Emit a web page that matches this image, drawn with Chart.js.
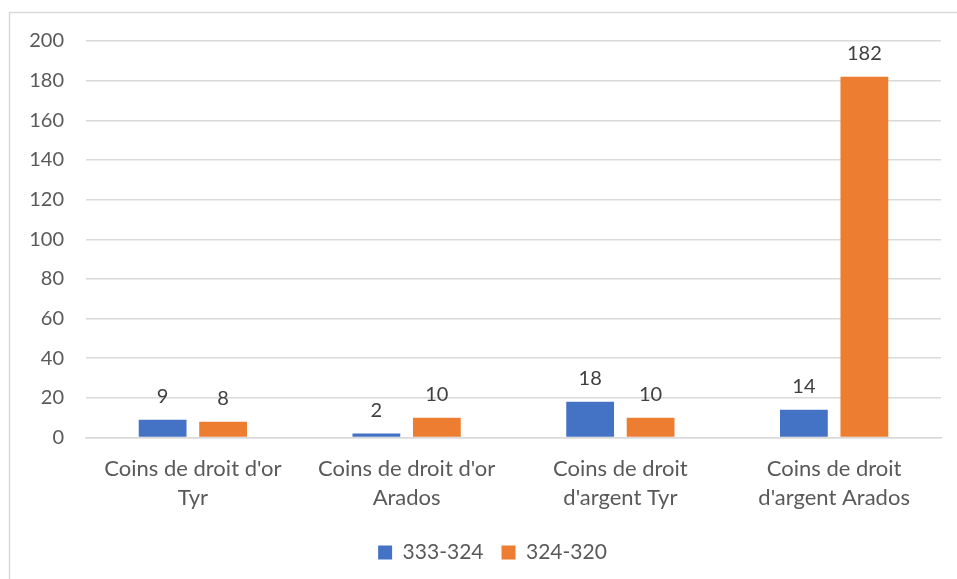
<!DOCTYPE html>
<html>
<head>
<meta charset="utf-8">
<script src="https://cdn.jsdelivr.net/npm/chart.js@4.4.1/dist/chart.umd.min.js"></script>
<style>
  html, body { margin: 0; padding: 0; background: #fff; }
  #wrap { position: relative; width: 957px; height: 579px; }
</style>
</head>
<body>
<div id="wrap"><canvas id="chart" width="957" height="579"></canvas></div>
<script>
const CATEGORIES = [
  ["Coins de droit d'or", 'Tyr'],
  ["Coins de droit d'or", 'Arados'],
  ['Coins de droit', "d'argent Tyr"],
  ['Coins de droit', "d'argent Arados"],
];
const SERIES_NAMES = ['333-324', '324-320'];
const VALUES_333_324 = [9, 2, 18, 14];
const VALUES_324_320 = [8, 10, 10, 182];
const Y_TICKS = [0, 20, 40, 60, 80, 100, 120, 140, 160, 180, 200];

const BLUE = '#4472C4';
const ORANGE = '#ED7D31';
const GRID = '#D9D9D9';
const TEXT = '#595959';
const FONT = 'Lato, "Open Sans", sans-serif';

// outer frame of the chart object
const frame = {
  id: 'frame',
  beforeDraw(chart) {
    const { ctx } = chart;
    ctx.save();
    ctx.fillStyle = '#fff';
    ctx.fillRect(0, 0, chart.width, chart.height);
    ctx.strokeStyle = GRID;
    ctx.lineWidth = 1.5;
    ctx.strokeRect(9.5, 12.5, chart.width + 20, chart.height + 20);
    ctx.restore();
  },
  // the frame runs past the right edge, so centre the legend on the frame
  afterLayout(chart) {
    if (chart.legend) {
      chart.legend.left += 22;
      chart.legend.right += 22;
    }
  },
};

// value printed above every bar
const valueLabels = {
  id: 'valueLabels',
  afterDatasetsDraw(chart) {
    const { ctx } = chart;
    ctx.save();
    ctx.fillStyle = '#404040';
    ctx.font = '20px ' + FONT;
    ctx.textAlign = 'center';
    ctx.textBaseline = 'alphabetic';
    chart.data.datasets.forEach((ds, i) => {
      chart.getDatasetMeta(i).data.forEach((bar, j) => {
        ctx.fillText(String(ds.data[j]), bar.x, bar.y - 17);
      });
    });
    ctx.restore();
  },
};

new Chart(document.getElementById('chart'), {
  type: 'bar',
  data: {
    labels: CATEGORIES,
    datasets: [
      { label: SERIES_NAMES[0], data: VALUES_333_324, backgroundColor: BLUE },
      { label: SERIES_NAMES[1], data: VALUES_324_320, backgroundColor: ORANGE },
    ],
  },
  options: {
    responsive: false,
    animation: false,
    devicePixelRatio: 1,
    categoryPercentage: 0.566,
    barPercentage: 0.79,
    layout: { padding: { left: 0, right: 16, top: 41, bottom: 6 } },
    plugins: {
      legend: {
        position: 'bottom',
        labels: {
          color: TEXT,
          font: { family: FONT, size: 21 },
          boxWidth: 14,
          boxHeight: 14,
          padding: 18,
        },
      },
      tooltip: { enabled: false },
    },
    scales: {
      x: {
        afterFit: (scale) => { scale.height = 86.5; },
        grid: { display: false, drawTicks: false },
        border: { color: GRID, width: 1.5 },
        ticks: { color: TEXT, font: { family: FONT, size: 22, lineHeight: 1.36 }, padding: 16, maxRotation: 0 },
      },
      y: {
        min: 0,
        max: 200,
        afterBuildTicks: (scale) => { scale.ticks = Y_TICKS.map((v) => ({ value: v })); },
        afterFit: (scale) => { scale.width = 86; },
        grid: { color: GRID, lineWidth: 1.5, drawTicks: false },
        border: { display: false },
        ticks: { color: TEXT, font: { family: FONT, size: 20 }, padding: 22 },
      },
    },
  },
  plugins: [frame, valueLabels],
});
</script>
</body>
</html>
